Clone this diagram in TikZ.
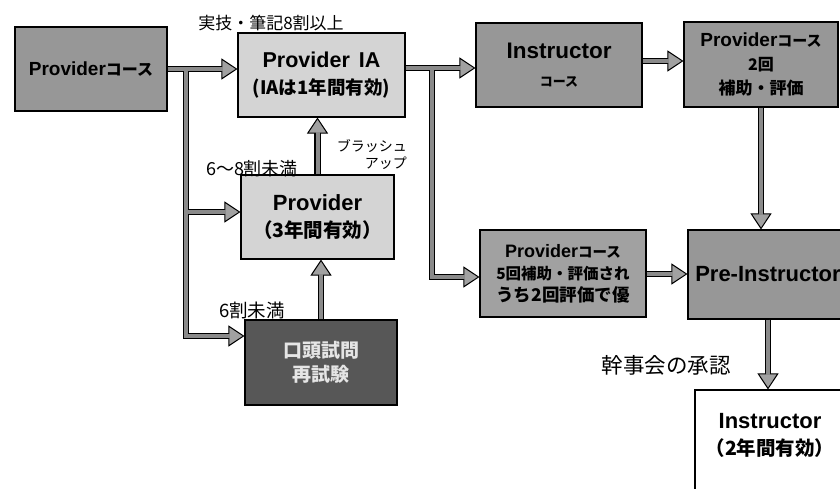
\documentclass[tikz,border=0pt]{standalone}
\usepackage{fontspec}
\setmainfont{Liberation Sans}
\newfontfamily\jp{Noto Sans CJK JP}
\usetikzlibrary{arrows.meta,calc}
\definecolor{gmid}{HTML}{979797}
\definecolor{glight}{HTML}{D4D4D4}
\definecolor{gdark}{HTML}{575757}
\definecolor{shaft}{HTML}{8A8A8A}
\newcommand\fs[2]{\fontsize{#1}{#2}\selectfont}
\newcommand\allconns[1]{%
  \draw[#1] (pc.east) -- (pc.east -| pia.west);
  \draw[#1] (j1) -- (j3) -- (j3 -| oral.west);
  \draw[#1] (j2) -- (j2 -| prov.west);
  \draw[#1] (oral.north) -- (oral.north |- prov.south);
  \draw[#1] (prov.north) -- (prov.north |- pia.south);
  \draw[#1] (j4 -| pia.east) -- (j4 -| ic.west);
  \draw[#1] (j4) -- (j6) -- (j6 -| p5.west);
  \draw[#1] (j7 -| ic.east) -- (j7 -| p2.west);
  \draw[#1] (p2.south) -- (p2.south |- pre.north);
  \draw[#1] (j8 -| p5.east) -- (j8 -| pre.west);
  \draw[#1] (pre.south) -- (pre.south |- ins.north);
}
\begin{document}
\begin{tikzpicture}[x=1pt,y=-1pt,
  box/.style={draw=black, line width=1.1pt, inner sep=0pt, align=center},
  lbl/.style={inner sep=0pt, font=\jp\fs{17}{20}},
  outer/.style={draw=black, line width=6.5pt,
    -{Triangle[length=16pt,width=21pt,fill=shaft!80!white,line width=1pt]}},
  inner/.style={draw=shaft, line width=4pt, shorten >=14pt}]
\useasboundingbox (0,0) rectangle (840,489);

% boxes
\node[box, fill=gmid, minimum width=152pt, minimum height=84pt, font=\bfseries\fs{19}{22}] (pc) at (91,69)
  {Provider{\jp\fs{16}{22}コース}};
\node[box, fill=glight, minimum width=167pt, minimum height=84pt, font=\bfseries\fs{21.5}{27}] (pia) at (321.5,75)
  {Provider\hspace{9pt}IA\\{\jp\fs{18.5}{27}(IAは1年間有効)}};
\node[box, fill=gmid, minimum width=166pt, minimum height=84pt, font=\bfseries\fs{22.5}{28}] (ic) at (559,65)
  {Instructor\\{\jp\fs{13}{28}コース}};
\node[box, fill=gmid, minimum width=154pt, minimum height=85pt, font=\bfseries\fs{19}{24}] (p2) at (761,64.5)
  {Provider{\jp\fs{15}{24}コース}\\{\jp\fs{16}{24}2回}\\{\jp\fs{17}{24}補助・評価}};
\node[box, fill=glight, minimum width=153pt, minimum height=84pt, font=\bfseries\fs{22}{27}] (prov) at (317.5,217)
  {Provider\\{\jp\fs{19.5}{27}（3年間有効）}};
\node[box, fill=gdark, minimum width=152pt, minimum height=85pt, text=white!80!gray, font=\jp\bfseries\fs{19}{24}] (oral) at (321,362.5)
  {口頭試問\\再試験};
\node[box, fill=gmid!90!white, minimum width=166pt, minimum height=87pt, font=\bfseries\fs{18}{22}] (p5) at (563,273.5)
  {Provider{\jp\fs{14.5}{22}コース}\\{\jp\fs{15.5}{22}5回補助・評価され}\\{\jp\fs{17.5}{22}うち2回評価で優}};
\node[box, fill=gmid, minimum width=160pt, minimum height=89pt, font=\bfseries\fs{22}{26}] (pre) at (768,274.5)
  {Pre-Instructor};
\node[box, fill=white, minimum width=153pt, minimum height=130pt] (ins) at (771.5,455) {};
\node[inner sep=0pt, align=center, font=\bfseries\fs{22}{27}] (inst) at (770,435)
  {Instructor\\{\jp\fs{19.5}{27}（2年間有効）}};

% junction points
\coordinate (j1) at (186,69);
\coordinate (j2) at (186,212);
\coordinate (j3) at (186,336);
\coordinate (j4) at (432,68);
\coordinate (j6) at (432,277);
\coordinate (j7) at (642,61);
\coordinate (j8) at (646,274);

% connectors: outlines first, then inner fill
\allconns{outer}
\allconns{inner}

% labels
\node[lbl] (l1) at (271,23) {実技・筆記8割以上};
\node[lbl, font=\jp\fs{14}{17}, align=right, anchor=east] (l2) at (407,155) {ブラッシュ\\アップ};
\node[lbl, font=\jp\fs{18}{20}] (l3) at (252,169) {6〜8割未満};
\node[lbl, font=\jp\fs{18.5}{20}] (l4) at (252,310) {6割未満};
\node[lbl, font=\jp\fs{21.5}{24}] (l5) at (666,365) {幹事会の承認};
\end{tikzpicture}
\end{document}
